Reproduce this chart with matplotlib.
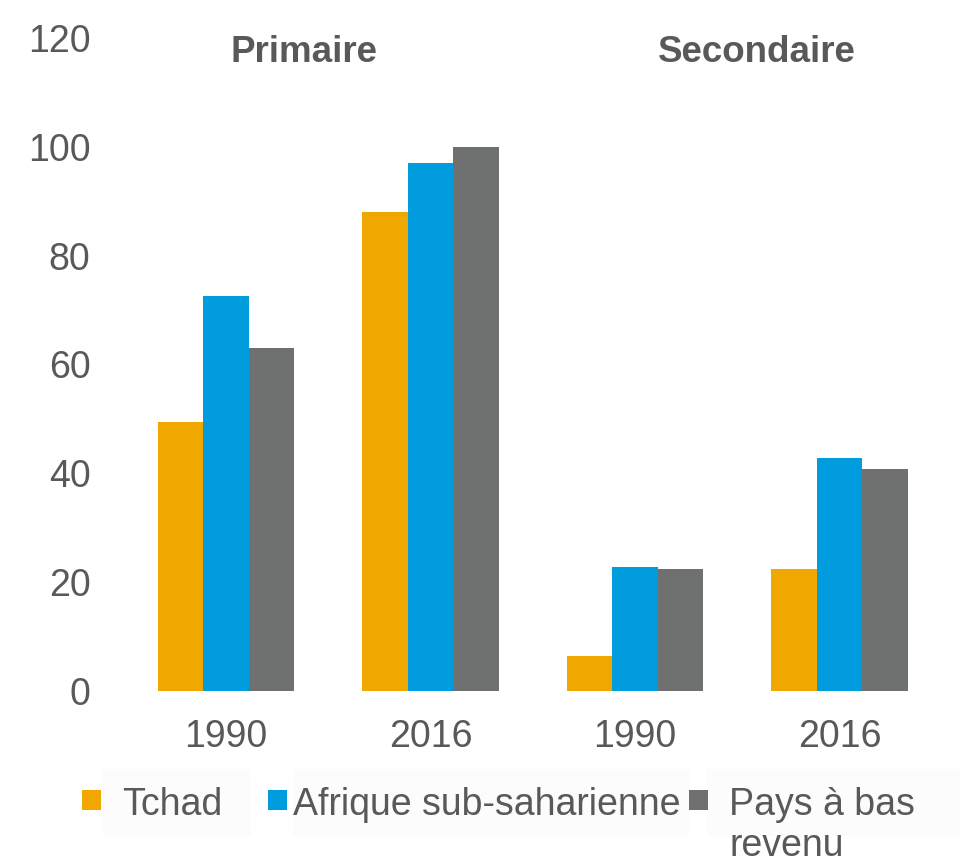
import numpy as np
import matplotlib
matplotlib.use('Agg')
import matplotlib.pyplot as plt
from matplotlib.patches import Rectangle

plt.rcParams['font.family'] = ['Liberation Sans', 'DejaVu Sans']

# donnees
annees = ['1990', '2016', '1990', '2016']
niveaux = ['Primaire', 'Secondaire']
series = ['Tchad', 'Afrique sub-saharienne', 'Pays à bas\nrevenu']
tchad = [49.5, 88.0, 6.5, 22.5]
afrique = [72.5, 97.0, 22.8, 42.8]
pays_bas_revenu = [63.0, 100.0, 22.5, 40.8]
yticks = [0, 20, 40, 60, 80, 100, 120]

couleurs = ['#F0A800', '#009CDE', '#6F7070']
gris = '#595959'

fig = plt.figure(figsize=(9.6, 8.63), dpi=100)
fig.patch.set_facecolor('white')
ax = fig.add_axes([0.129, 0.1993, 0.852, 0.7567])

x = np.arange(len(annees))
w = 0.222
for i, (vals, c) in enumerate(zip([tchad, afrique, pays_bas_revenu], couleurs)):
    ax.bar(x + (i - 1) * w, vals, width=w, color=c, linewidth=0)

ax.set_xlim(-0.5, 3.5)
ax.set_ylim(0, 120)
ax.set_yticks(yticks)
ax.set_xticks(x)
ax.set_xticklabels(annees)
for s in ax.spines.values():
    s.set_visible(False)
ax.tick_params(axis='y', length=0, pad=24, labelsize=27, labelcolor=gris)
ax.tick_params(axis='x', length=0, pad=20, labelsize=27, labelcolor=gris)

# titres des niveaux
fig.text(304 / 960, 1 - 52 / 863, niveaux[0], ha='center', va='center',
         fontsize=26.5, fontweight='bold', color=gris)
fig.text(757 / 960, 1 - 52 / 863, niveaux[1], ha='center', va='center',
         fontsize=26.5, fontweight='bold', color=gris)

# legende faite a la main
W, H = 960, 863
boites = [(103, 251), (293, 689), (707, 960)]
carres = [82, 268, 689]
textes = [122, 293, 729]
for (b0, b1), cx, tx, lab, c in zip(boites, carres, textes, series, couleurs):
    fig.patches.append(Rectangle((b0 / W, 1 - 836 / H), (b1 - b0) / W, 67 / H,
                                 transform=fig.transFigure, facecolor='#fcfcfc',
                                 edgecolor='none', zorder=0))
    fig.patches.append(Rectangle((cx / W, 1 - 810 / H), 19 / W, 20 / H,
                                 transform=fig.transFigure, facecolor=c,
                                 edgecolor='none'))
    fig.text(tx / W, 1 - 787 / H, lab, ha='left', va='top', fontsize=27,
             color=gris, linespacing=1.18)

plt.savefig('out.png', dpi=100, facecolor='white')
